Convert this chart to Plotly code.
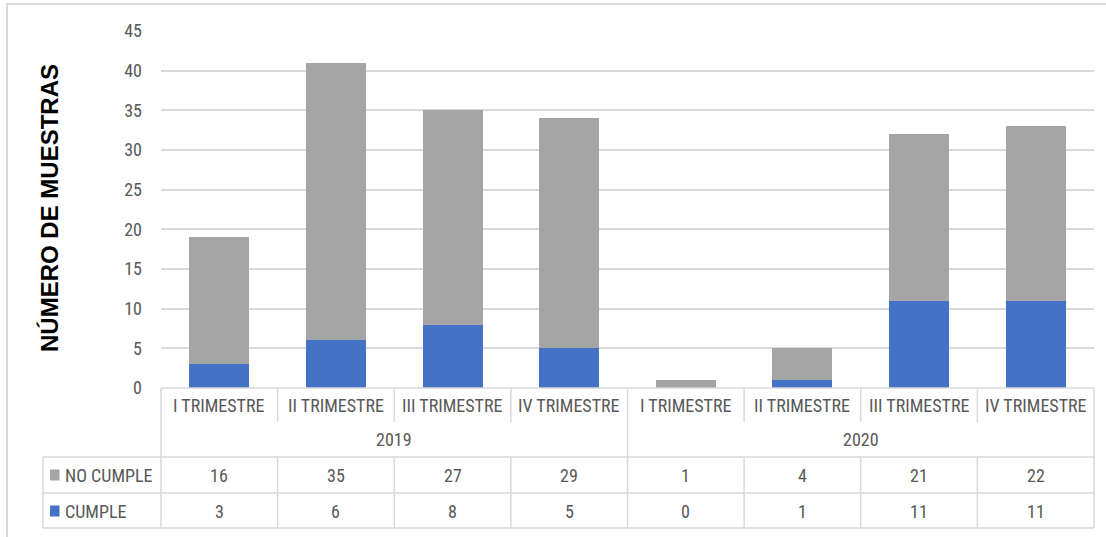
import plotly.graph_objects as go

# ---- data ----
years = ["2019", "2020"]
quarters = ["I TRIMESTRE", "II TRIMESTRE", "III TRIMESTRE", "IV TRIMESTRE"]
categories = [(y, q) for y in years for q in quarters]
no_cumple = [16, 35, 27, 29, 1, 4, 21, 22]
cumple = [3, 6, 8, 5, 0, 1, 11, 11]
series_labels = ["NO CUMPLE", "CUMPLE"]
y_tickvals = [0, 5, 10, 15, 20, 25, 30, 35, 40, 45]
y_title = "NÚMERO DE MUESTRAS"

# ---- style ----
GRAY_BAR = "#A5A5A5"
BLUE_BAR = "#4472C4"
TXT = "#595959"
LINE = "#D9D9D9"
FONT = "Liberation Sans Narrow, Arial Narrow, Roboto Condensed, Roboto, sans-serif"
W, H = 1106, 537
ML, MR, MT, MB = 161, 12, 31, 149
PW = W - ML - MR
PH = H - MT - MB


def px_x(p):
    return (p - ML) / PW


def px_y(p):
    return (H - MB - p) / PH


n = len(categories)
xs = list(range(n))

fig = go.Figure()
fig.add_trace(go.Bar(x=xs, y=cumple, name=series_labels[1], marker_color=BLUE_BAR,
                     marker_line_width=0, width=0.515))
fig.add_trace(go.Bar(x=xs, y=no_cumple, name=series_labels[0], marker_color=GRAY_BAR,
                     marker_line_width=0, width=0.515))

shapes = []
ann = []


def hline(y0p, x0p, x1p):
    shapes.append(dict(type="line", xref="paper", yref="paper", x0=px_x(x0p), x1=px_x(x1p),
                       y0=px_y(y0p), y1=px_y(y0p), line=dict(color=LINE, width=1.5)))


def vline(xp, y0p, y1p):
    shapes.append(dict(type="line", xref="paper", yref="paper", x0=px_x(xp), x1=px_x(xp),
                       y0=px_y(y0p), y1=px_y(y1p), line=dict(color=LINE, width=1.5)))


# outer border
shapes.append(dict(type="rect", xref="paper", yref="paper", x0=px_x(7), x1=px_x(1115),
                   y0=px_y(548), y1=px_y(4), line=dict(color=LINE, width=2), layer="below"))

TOP = H - MB          # axis line pixel
Y_CAT_END = 422
Y_ROW1 = 457
Y_ROW2 = 493
Y_BOT = 528
LEG_X = 43
RIGHT = ML + PW

hline(TOP, ML, RIGHT)
hline(Y_ROW1, LEG_X, RIGHT)
hline(Y_ROW2, LEG_X, RIGHT)
hline(Y_BOT, LEG_X, RIGHT)
vline(LEG_X, Y_ROW1, Y_BOT)
colw = PW / n
nq = len(quarters)
for i in range(n + 1):
    xp = ML + i * colw
    if i % nq == 0:
        vline(xp, TOP, Y_BOT)
    else:
        vline(xp, TOP, Y_CAT_END)
        vline(xp, Y_ROW1, Y_BOT)

tf = dict(family=FONT, size=18, color=TXT)
for i, (yr, q) in enumerate(categories):
    cx = ML + (i + 0.5) * colw
    ann.append(dict(x=px_x(cx), y=px_y(405.5), xref="paper", yref="paper", text=q,
                    showarrow=False, font=tf, xanchor="center", yanchor="middle"))
    ann.append(dict(x=px_x(cx), y=px_y(475), xref="paper", yref="paper", text=str(no_cumple[i]),
                    showarrow=False, font=tf, xanchor="center", yanchor="middle"))
    ann.append(dict(x=px_x(cx), y=px_y(511), xref="paper", yref="paper", text=str(cumple[i]),
                    showarrow=False, font=tf, xanchor="center", yanchor="middle"))
for j, yr in enumerate(years):
    cx = ML + (j * nq + nq / 2) * colw
    ann.append(dict(x=px_x(cx), y=px_y(439), xref="paper", yref="paper", text=yr,
                    showarrow=False, font=tf, xanchor="center", yanchor="middle"))

# legend keys in table
for label, color, yc in [(series_labels[0], GRAY_BAR, 475), (series_labels[1], BLUE_BAR, 511)]:
    shapes.append(dict(type="rect", xref="paper", yref="paper", x0=px_x(50), x1=px_x(59.5),
                       y0=px_y(yc + 5.5), y1=px_y(yc - 5.5), fillcolor=color, line=dict(width=0)))
    ann.append(dict(x=px_x(63), y=px_y(yc), xref="paper", yref="paper", text=label,
                    showarrow=False, font=tf, xanchor="left", yanchor="middle"))

# y title
ann.append(dict(x=px_x(49), y=px_y(208), xref="paper", yref="paper", text="<b>" + y_title + "</b>",
                textangle=-90, showarrow=False,
                font=dict(family="Liberation Sans, Arial, sans-serif", size=24, color="#000000"),
                xanchor="center", yanchor="middle"))

fig.update_layout(
    width=W, height=H,
    margin=dict(l=ML, r=MR, t=MT, b=MB, pad=0),
    barmode="stack",
    showlegend=False,
    hovermode=False,
    plot_bgcolor="white", paper_bgcolor="white",
    shapes=shapes, annotations=ann,
    xaxis=dict(range=[-0.5, n - 0.5], visible=False, fixedrange=True),
    yaxis=dict(range=[0, 45], tickvals=y_tickvals, showgrid=True, gridcolor=LINE, gridwidth=1.5,
               zeroline=False, showline=False, ticks="", ticklabelstandoff=18, fixedrange=True,
               tickfont=dict(family=FONT, size=18, color=TXT)),
)

fig.write_html("out.html", config={"displayModeBar": False},
               post_script="document.body.style.margin='0';document.body.style.overflow='hidden';")
